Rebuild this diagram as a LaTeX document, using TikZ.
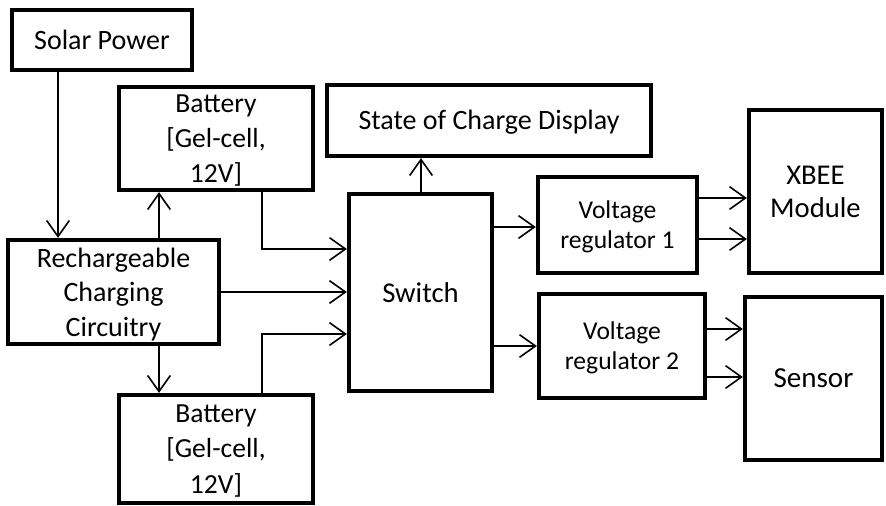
\documentclass[tikz,border=0pt]{standalone}
\usepackage{fontspec}
\setmainfont{Carlito}
\usetikzlibrary{arrows.meta}
\begin{document}
\begin{tikzpicture}[x=0.75pt,y=-0.75pt,
  box/.style={draw=black,line width=3.2pt,inner sep=0pt,align=center,
    font=\fontsize{21}{26}\selectfont},
  arr/.style={line width=1.2pt,-{Straight Barb[length=12pt,width=17pt,line width=1.2pt]}}]
\useasboundingbox (0,0) rectangle (886,506);
\node[box,minimum width=135pt,minimum height=45pt] (solar) at (102,40) {Solar Power};
\node[box,minimum width=145.5pt,minimum height=77.25pt,font=\fontsize{20.7}{26.5}\selectfont,text depth=-8pt] (bat1) at (216,138.5) {Battery\\{}[Gel-cell,\\12V]};
\node[box,minimum width=243pt,minimum height=53.25pt,text depth=1pt] (soc) at (489,120.5) {State of Charge Display};
\node[box,minimum width=158.25pt,minimum height=78pt,font=\fontsize{21}{26}\selectfont,text depth=-5pt] (rech) at (113.5,292) {Rechargeable\\Charging\\Circuitry};
\node[box,minimum width=145.5pt,minimum height=81pt,font=\fontsize{20.7}{26.5}\selectfont,text depth=-8pt] (bat2) at (216,449) {Battery\\{}[Gel-cell,\\12V]};
\node[box,minimum width=107.25pt,minimum height=147.75pt,font=\fontsize{21.5}{26}\selectfont] (sw) at (420.5,292.5) {Switch};
\node[box,minimum width=119.25pt,minimum height=72pt,font=\fontsize{19.2}{22.5}\selectfont,text depth=-2pt] (vr1) at (617.5,225) {Voltage\\regulator 1};
\node[box,minimum width=124.5pt,minimum height=78pt,font=\fontsize{19.2}{22.5}\selectfont,text depth=-2pt] (vr2) at (622,346) {Voltage\\regulator 2};
\node[box,minimum width=99.75pt,minimum height=122.25pt,font=\fontsize{21.5}{24.75}\selectfont] (xbee) at (815.5,191.5) {XBEE\\Module};
\node[box,minimum width=102.75pt,minimum height=122.25pt,font=\fontsize{21.8}{26}\selectfont] (sens) at (813.5,378.5) {Sensor};
% helper coordinates
\coordinate (xa) at (58,0);
\coordinate (xb) at (159,0);
\coordinate (xc) at (262,0);
\coordinate (xd) at (421,0);
\coordinate (ya) at (0,249);
\coordinate (yb) at (0,292);
\coordinate (yc) at (0,334);
\coordinate (yd) at (0,227);
\coordinate (ye) at (0,346);
\coordinate (yf) at (0,198);
\coordinate (yg) at (0,239);
\coordinate (yh) at (0,329);
\coordinate (yi) at (0,377);
\draw[arr] (xa |- solar.south) -- (xa |- rech.north);
\draw[arr] (xb |- rech.north) -- (xb |- bat1.south);
\draw[arr] (xb |- rech.south) -- (xb |- bat2.north);
\draw[arr] (xc |- bat1.south) -- (xc |- ya) -- (sw.west |- ya);
\draw[arr] (rech.east |- yb) -- (sw.west |- yb);
\draw[arr] (xc |- bat2.north) -- (xc |- yc) -- (sw.west |- yc);
\draw[arr] (xd |- sw.north) -- (xd |- soc.south);
\draw[arr] (sw.east |- yd) -- (vr1.west |- yd);
\draw[arr] (sw.east |- ye) -- (vr2.west |- ye);
\draw[arr] (vr1.east |- yf) -- (xbee.west |- yf);
\draw[arr] (vr1.east |- yg) -- (xbee.west |- yg);
\draw[arr] (vr2.east |- yh) -- (sens.west |- yh);
\draw[arr] (vr2.east |- yi) -- (sens.west |- yi);
\end{tikzpicture}
\end{document}
